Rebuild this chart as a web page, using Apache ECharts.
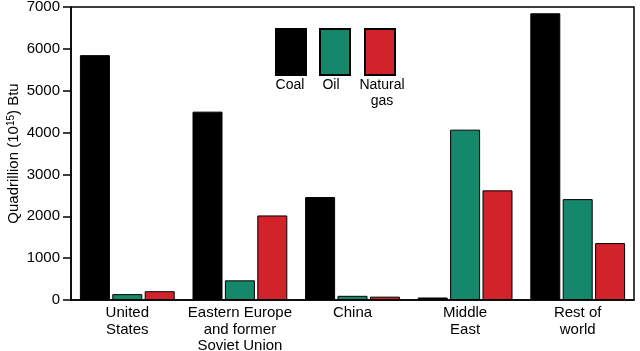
<!DOCTYPE html>
<html>
<head>
<meta charset="utf-8">
<script src="https://cdn.jsdelivr.net/npm/echarts@6/dist/echarts.min.js"></script>
<style>
  html, body { margin: 0; padding: 0; background: #fff; }
  #chart { width: 640px; height: 351px; }
</style>
</head>
<body>
<div id="chart"></div>
<script>
const regions = ['United\nStates', 'Eastern Europe\nand former\nSoviet Union', 'China', 'Middle\nEast', 'Rest of\nworld'];
const coal = [5850, 4500, 2460, 60, 6850];
const oil = [140, 470, 100, 4070, 2410];
const gas = [210, 2020, 80, 2620, 1360];
const yTicks = [0, 7000, 1000]; // min, max, interval

const font = 'Liberation Sans, Arial, sans-serif';
const chart = echarts.init(document.getElementById('chart'), null, { renderer: 'canvas' });

// one legend per swatch so they sit where the original has them
function swatch(name, left) {
  return {
    data: [name],
    left: left,
    top: 28,
    itemWidth: 30,
    itemHeight: 46,
    icon: 'rect',
    formatter: () => '',
    selectedMode: false,
    padding: 0
  };
}

function legendText(text, x) {
  return {
    type: 'text', x: x, y: 77,
    style: { text: text, font: '14px ' + font, fill: '#000', align: 'center', verticalAlign: 'top', lineHeight: 16 }
  };
}

const option = {
  animation: false,
  grid: {
    left: 71, right: 6, top: 7, bottom: 51,
    outerBoundsMode: 'none',
    containLabel: false,
    show: true, borderColor: '#000', borderWidth: 1.5
  },
  legend: [swatch('Coal', 275), swatch('Oil', 319), swatch('Natural gas', 364)],
  graphic: [
    legendText('Coal', 290),
    legendText('Oil', 331),
    legendText('Natural\ngas', 382)
  ],
  xAxis: {
    type: 'category',
    data: regions,
    axisLine: { lineStyle: { color: '#000', width: 1.5 } },
    axisTick: { show: false },
    axisLabel: { color: '#000', fontFamily: font, fontSize: 15, lineHeight: 16.5, margin: 5, interval: 0 }
  },
  yAxis: {
    type: 'value',
    min: yTicks[0], max: yTicks[1], interval: yTicks[2],
    name: '{a|Quadrillion (10}{s|15}{a|) Btu}',
    nameLocation: 'middle',
    nameRotate: 90,
    nameGap: 49,
    nameMoveOverlap: false,
    nameTextStyle: {
      rich: {
        a: { fontFamily: font, fontSize: 15, color: '#000' },
        s: { fontFamily: font, fontSize: 10, color: '#000', verticalAlign: 'top', padding: [0, 0, 6, 0] }
      }
    },
    splitLine: { show: false },
    axisLine: { show: true, lineStyle: { color: '#000', width: 1.5 } },
    axisTick: { show: true, inside: false, length: 8, lineStyle: { color: '#000', width: 1.5 } },
    axisLabel: { color: '#000', fontFamily: font, fontSize: 15, margin: 11, formatter: v => String(v) }
  },
  series: [
    {
      name: 'Coal', type: 'bar', data: coal, barWidth: 30, barGap: '8%',
      itemStyle: { color: '#000', borderColor: '#000', borderWidth: 1 }
    },
    {
      name: 'Oil', type: 'bar', data: oil, barWidth: 30, barGap: '8%',
      itemStyle: { color: '#15876a', borderColor: '#000', borderWidth: 1 }
    },
    {
      name: 'Natural gas', type: 'bar', data: gas, barWidth: 30, barGap: '8%',
      itemStyle: { color: '#d2222a', borderColor: '#000', borderWidth: 1 }
    }
  ]
};

chart.setOption(option);
</script>
</body>
</html>
